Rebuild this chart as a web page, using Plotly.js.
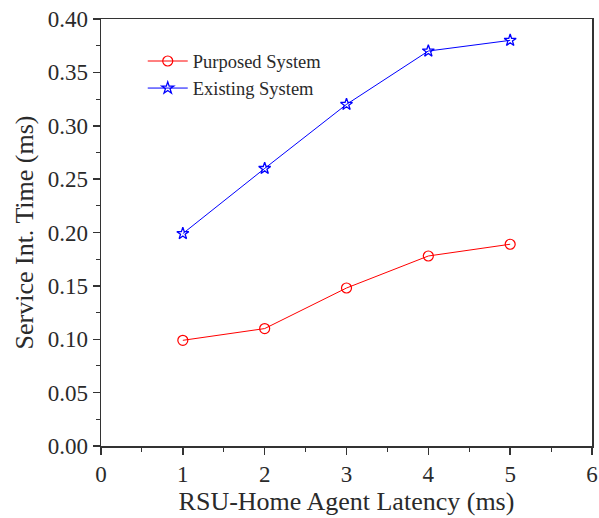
<!DOCTYPE html>
<html><head><meta charset="utf-8">
<script src="https://cdn.plot.ly/plotly-3.0.1.min.js"></script>
<style>body{margin:0;background:#fff}#c{width:599px;height:518px}</style>
</head><body><div id="c"></div>
<script>
const latency = [1, 2, 3, 4, 5];
const purposed = [0.099, 0.110, 0.148, 0.178, 0.189];
const existing = [0.199, 0.260, 0.320, 0.370, 0.380];
const seriesNames = ["Purposed System", "Existing System"];

const font = {family: "Liberation Serif, Times New Roman, serif", color: "#2a2a2a"};
const data = [
  {x: latency, y: purposed, name: seriesNames[0], type: "scatter", mode: "lines+markers",
   line: {color: "#ff0000", width: 1}, marker: {symbol: "circle-open", size: 10, color: "#ff0000", line: {width: 1.2}}},
  {x: latency, y: existing, name: seriesNames[1], type: "scatter", mode: "lines+markers",
   line: {color: "#0000ff", width: 1}, marker: {symbol: "star-open", size: 9, color: "#0000ff", line: {width: 1.3}}}
];
const axisCommon = {showgrid: false, zeroline: false, showline: true, linecolor: "#333", linewidth: 1.5, mirror: true,
  ticks: "outside", ticklen: 7, tickwidth: 1.5, tickcolor: "#333", tickfont: {...font, size: 23},
  ticklabeloverflow: "allow",
  minor: {ticks: "outside", ticklen: 4, tickwidth: 1, tickcolor: "#333"}};
const layout = {
  width: 599, height: 518, paper_bgcolor: "#fff", plot_bgcolor: "#fff",
  margin: {l: 101, r: 7, t: 19, b: 72},
  font: font, showlegend: true,
  legend: {x: 0.085, y: 0.945, xanchor: "left", yanchor: "top", bgcolor: "rgba(0,0,0,0)", font: {...font, size: 18.5}, itemwidth: 40, tracegroupgap: 0},
  xaxis: {...axisCommon, range: [0, 6], dtick: 1, tickformat: "d", minor: {...axisCommon.minor, dtick: 0.5},
    title: {text: "RSU-Home Agent Latency (ms)", font: {...font, size: 26}, standoff: 4}},
  yaxis: {...axisCommon, range: [0, 0.4], dtick: 0.05, tickformat: ".2f", minor: {...axisCommon.minor, dtick: 0.025},
    title: {text: "Service Int. Time (ms)", font: {...font, size: 26}, standoff: 6}}
};
Plotly.newPlot("c", data, layout, {displayModeBar: false, staticPlot: true});
</script></body></html>
